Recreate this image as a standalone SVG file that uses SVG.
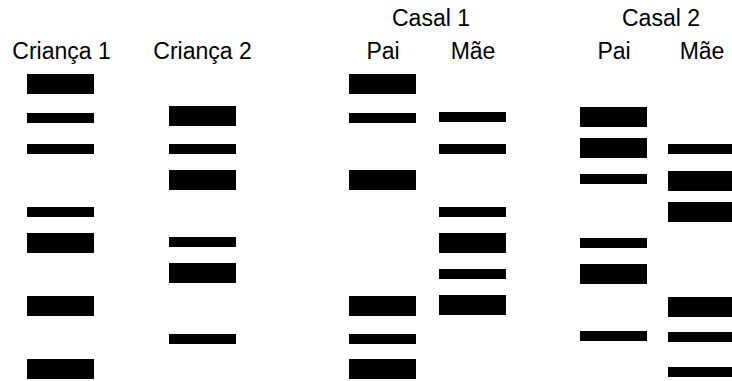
<svg xmlns="http://www.w3.org/2000/svg" width="732" height="381" viewBox="0 0 732 381">
<style>
text{font-family:"Liberation Sans",Arial,sans-serif;font-size:23px;fill:#000;text-anchor:middle}
rect{fill:#000}
</style>
<rect x="0" y="0" width="732" height="381" style="fill:#fff"/>
<g id="labels">
<text x="61.5" y="59">Criança 1</text>
<text x="202.5" y="59">Criança 2</text>
<text x="431" y="26">Casal 1</text>
<text x="383" y="59">Pai</text>
<text x="473" y="59">Mãe</text>
<text x="661" y="26">Casal 2</text>
<text x="614" y="59">Pai</text>
<text x="702" y="59">Mãe</text>
</g>
<g id="crianca1">
<rect x="27" y="74" width="67" height="20"/>
<rect x="27" y="113" width="67" height="10"/>
<rect x="27" y="144" width="67" height="10"/>
<rect x="27" y="207" width="67" height="10"/>
<rect x="27" y="233" width="67" height="20"/>
<rect x="27" y="296" width="67" height="20"/>
<rect x="27" y="359" width="67" height="20"/>
</g>
<g id="crianca2">
<rect x="169" y="106" width="67" height="20"/>
<rect x="169" y="144" width="67" height="10"/>
<rect x="169" y="170" width="67" height="20"/>
<rect x="169" y="237" width="67" height="10"/>
<rect x="169" y="263" width="67" height="20"/>
<rect x="169" y="334" width="67" height="10"/>
</g>
<g id="casal1-pai">
<rect x="349" y="74" width="67" height="20"/>
<rect x="349" y="113" width="67" height="10"/>
<rect x="349" y="170" width="67" height="20"/>
<rect x="349" y="296" width="67" height="20"/>
<rect x="349" y="334" width="67" height="10"/>
<rect x="349" y="359" width="67" height="20"/>
</g>
<g id="casal1-mae">
<rect x="439" y="112" width="67" height="10"/>
<rect x="439" y="144" width="67" height="10"/>
<rect x="439" y="207" width="67" height="10"/>
<rect x="439" y="233" width="67" height="20"/>
<rect x="439" y="269" width="67" height="10"/>
<rect x="439" y="295" width="67" height="20"/>
</g>
<g id="casal2-pai">
<rect x="580" y="107" width="67" height="20"/>
<rect x="580" y="138" width="67" height="20"/>
<rect x="580" y="174" width="67" height="10"/>
<rect x="580" y="238" width="67" height="10"/>
<rect x="580" y="264" width="67" height="20"/>
<rect x="580" y="331" width="67" height="10"/>
</g>
<g id="casal2-mae">
<rect x="668" y="144" width="67" height="10"/>
<rect x="668" y="171" width="67" height="20"/>
<rect x="668" y="202" width="67" height="20"/>
<rect x="668" y="297" width="67" height="20"/>
<rect x="668" y="332" width="67" height="10"/>
<rect x="668" y="367" width="67" height="10"/>
</g>
</svg>
